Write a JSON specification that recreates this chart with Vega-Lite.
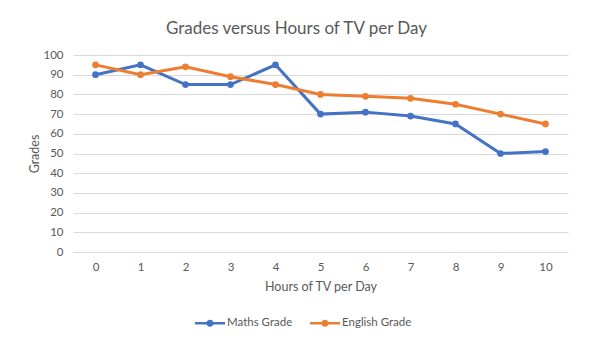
{
  "$schema": "https://vega.github.io/schema/vega-lite/v6.json",
  "width": 495,
  "height": 197,
  "autosize": {"type": "none"},
  "padding": {"left": 73, "top": 55, "right": 27, "bottom": 103},
  "background": "white",
  "title": {
    "text": "Grades versus Hours of TV per Day",
    "font": "Lato",
    "fontSize": 17,
    "fontWeight": "normal",
    "color": "#595959",
    "anchor": "middle",
    "dx": -24,
    "offset": 11
  },
  "data": {
    "values": [
      {"hours": "0", "series": "Maths Grade", "grade": 90},
      {"hours": "1", "series": "Maths Grade", "grade": 95},
      {"hours": "2", "series": "Maths Grade", "grade": 85},
      {"hours": "3", "series": "Maths Grade", "grade": 85},
      {"hours": "4", "series": "Maths Grade", "grade": 95},
      {"hours": "5", "series": "Maths Grade", "grade": 70},
      {"hours": "6", "series": "Maths Grade", "grade": 71},
      {"hours": "7", "series": "Maths Grade", "grade": 69},
      {"hours": "8", "series": "Maths Grade", "grade": 65},
      {"hours": "9", "series": "Maths Grade", "grade": 50},
      {"hours": "10", "series": "Maths Grade", "grade": 51},
      {"hours": "0", "series": "English Grade", "grade": 95},
      {"hours": "1", "series": "English Grade", "grade": 90},
      {"hours": "2", "series": "English Grade", "grade": 94},
      {"hours": "3", "series": "English Grade", "grade": 89},
      {"hours": "4", "series": "English Grade", "grade": 85},
      {"hours": "5", "series": "English Grade", "grade": 80},
      {"hours": "6", "series": "English Grade", "grade": 79},
      {"hours": "7", "series": "English Grade", "grade": 78},
      {"hours": "8", "series": "English Grade", "grade": 75},
      {"hours": "9", "series": "English Grade", "grade": 70},
      {"hours": "10", "series": "English Grade", "grade": 65}
    ]
  },
  "mark": {"type": "line", "strokeWidth": 3, "point": {"filled": true, "size": 45}},
  "encoding": {
    "x": {
      "field": "hours",
      "type": "ordinal",
      "sort": null,
      "scale": {"type": "point", "padding": 0.5},
      "axis": {
        "title": "Hours of TV per Day",
        "labelAngle": 0,
        "domain": false,
        "ticks": false,
        "labelPadding": 9,
        "titlePadding": 8,
        "labelFont": "Lato",
        "labelFontSize": 11.5,
        "labelColor": "#595959",
        "titleFont": "Lato",
        "titleFontSize": 12.5,
        "titleFontWeight": "normal",
        "titleColor": "#595959"
      }
    },
    "y": {
      "field": "grade",
      "type": "quantitative",
      "scale": {"domain": [0, 100], "nice": false},
      "axis": {
        "title": "Grades",
        "values": [0, 10, 20, 30, 40, 50, 60, 70, 80, 90, 100],
        "domain": false,
        "ticks": false,
        "labelPadding": 10,
        "titlePadding": 1,
        "gridColor": "#D9D9D9",
        "gridWidth": 1,
        "labelFont": "Lato",
        "labelFontSize": 11.5,
        "labelColor": "#595959",
        "titleFont": "Lato",
        "titleFontSize": 12.5,
        "titleFontWeight": "normal",
        "titleColor": "#595959"
      }
    },
    "color": {
      "field": "series",
      "type": "nominal",
      "sort": ["Maths Grade", "English Grade"],
      "scale": {"domain": ["Maths Grade", "English Grade"], "range": ["#4472C4", "#ED7D31"]},
      "legend": {
        "title": null,
        "orient": "none",
        "direction": "horizontal",
        "legendX": 122,
        "legendY": 253,
        "symbolType": "M-1,-0.09H1V0.09H-1Z M0.24,0 A0.24,0.24 0 1,1 -0.24,0 A0.24,0.24 0 1,1 0.24,0 Z",
        "symbolSize": 900,
        "symbolStrokeWidth": 0,
        "labelOffset": 2,
        "columnPadding": 17,
        "labelFont": "Lato",
        "labelFontSize": 11.5,
        "labelColor": "#595959",
        "encode": {
          "symbols": {"update": {"fill": {"scale": "color", "field": "value"}, "fillOpacity": {"value": 1}, "strokeWidth": {"value": 0}}}
        }
      }
    }
  },
  "config": {"view": {"stroke": null}}
}
